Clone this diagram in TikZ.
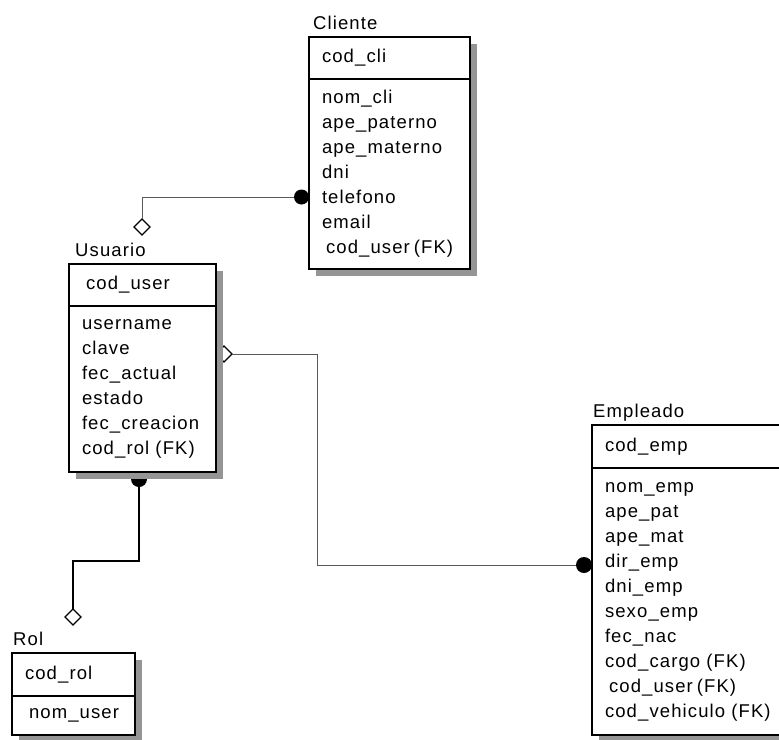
\documentclass[tikz,border=0pt]{standalone}
\usepackage{fontspec}
\newfontfamily\erwinfont{Liberation Sans}[LetterSpace=6]
\usepackage{tikz}
\usetikzlibrary{positioning,shapes.geometric,shadows,backgrounds}
\definecolor{shadeGray}{HTML}{959595}
\definecolor{linkGray}{HTML}{5A5A5A}

\begin{document}
\begin{tikzpicture}[x=1pt,y=-1pt,font=\erwinfont\fontsize{18.5}{25}\selectfont,
  entbox/.style={draw,line width=1.2pt,fill=white,outer sep=0pt,inner xsep=13pt,inner ysep=2pt,
    align=left,text width=#1,anchor=north west,
    drop shadow={shadow xshift=7pt,shadow yshift=-7pt,fill=shadeGray,opacity=1}},
  enttitle/.style={anchor=base west,inner sep=0pt},
  onedot/.style={circle,fill=black,inner sep=0pt,outer sep=0pt,minimum size=15pt},
  manydia/.style={diamond,draw,line width=1.1pt,fill=white,inner sep=0pt,outer sep=0pt,minimum size=16pt},
  link/.style={draw=linkGray,line width=0.9pt},
  solidlink/.style={draw=black,line width=1.1pt}
]
  \useasboundingbox (0,0) rectangle (779,739);

  % Cliente
  \node[entbox=135pt,minimum height=42pt] (cli-key) at (309,37) {cod\_cli};
  \node[entbox=135pt,minimum height=190pt,below=0pt of cli-key] (cli-attr)
    {nom\_cli\\ape\_paterno\\ape\_materno\\dni\\telefono\\email\\\hspace*{4pt}cod\_user\hspace{4pt}(FK)};
  \node[above right=8pt and 4pt of cli-key.north west,enttitle] (cli-title) {Cliente};

  % Usuario
  \node[entbox=121pt,minimum height=42pt] (usr-key) at (69,264) {\hspace*{4pt}cod\_user};
  \node[entbox=121pt,minimum height=166pt,below=0pt of usr-key] (usr-attr)
    {username\\clave\\fec\_actual\\estado\\fec\_creacion\\cod\_rol (FK)};
  \node[above right=8pt and 6pt of usr-key.north west,enttitle] (usr-title) {Usuario};

  % Rol
  \node[entbox=97pt,minimum height=43pt] (rol-key) at (12,653) {cod\_rol};
  \node[entbox=97pt,minimum height=39pt,below=0pt of rol-key] (rol-attr) {\hspace*{4pt}nom\_user};
  \node[above right=8pt and 1pt of rol-key.north west,enttitle] (rol-title) {Rol};

  % Empleado
  \node[entbox=182pt,minimum height=43pt] (emp-key) at (592,425) {cod\_emp};
  \node[entbox=182pt,minimum height=267pt,below=0pt of emp-key] (emp-attr)
    {nom\_emp\\ape\_pat\\ape\_mat\\dir\_emp\\dni\_emp\\sexo\_emp\\fec\_nac\\cod\_cargo (FK)\\
     \hspace*{4pt}cod\_user\hspace{4pt}(FK)\\cod\_vehiculo (FK)};
  \node[above right=8pt and 1pt of emp-key.north west,enttitle] (emp-title) {Empleado};

  % relaciones
  \begin{scope}[on background layer]
    \coordinate (cli-in) at ([yshift=-118pt]cli-attr.north west);
    \node[onedot,anchor=east] (cli-dot) at (cli-in) {};
    \node[manydia] (usr-top) at ([xshift=73pt,yshift=37pt]usr-key.north west) {};
    \draw[link] (cli-dot.west) -| (usr-top.north);

    \node[manydia] (usr-side) at ([xshift=8pt,yshift=-48pt]usr-attr.north east) {};
    \node[onedot,minimum size=16pt,anchor=east] (emp-dot) at ([yshift=-97pt]emp-attr.north west) {};
    \coordinate (emp-bend) at ([xshift=85pt]usr-side.east);
    \draw[link] (usr-side.east) -- (emp-bend) |- (emp-dot.west);

    \node[onedot,minimum size=16pt] (usr-dot) at ([xshift=70pt,yshift=-7pt]usr-attr.south west) {};
    \node[manydia] (rol-top) at ([xshift=61pt,yshift=36pt]rol-key.north west) {};
    \coordinate (rol-bend) at ([yshift=48pt]rol-top.north);
    \draw[solidlink] (usr-dot.south) |- (rol-bend) -- (rol-top.north);
  \end{scope}
\end{tikzpicture}
\end{document}
